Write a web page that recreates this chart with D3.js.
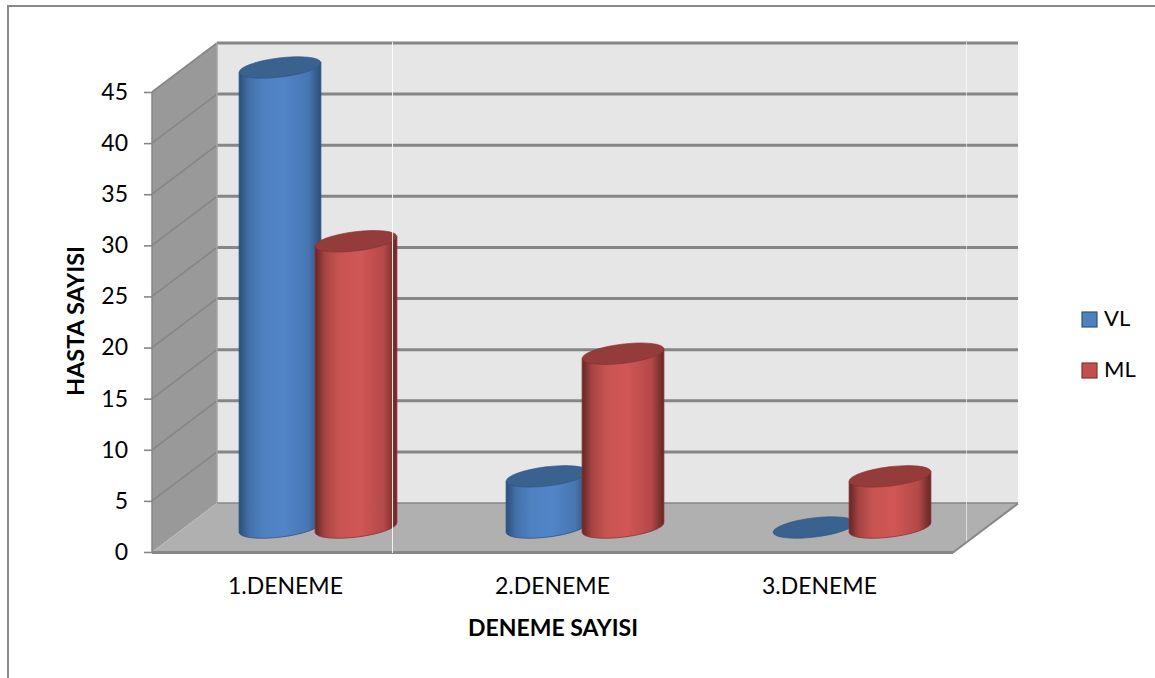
<!DOCTYPE html>
<html>
<head>
<meta charset="utf-8">
<script src="https://cdn.jsdelivr.net/npm/d3@7"></script>
<style>
html, body { margin: 0; padding: 0; background: #fff; overflow: hidden; }
svg { display: block; }
text { font-family: Lato, "Open Sans", sans-serif; fill: #000; }
</style>
</head>
<body>
<div id="chart"></div>
<script>
// Patient counts per trial, drawn as 3D cylinders
const categories = ["1.DENEME", "2.DENEME", "3.DENEME"];
const seriesNames = ["VL", "ML"];
const vlValues = [45, 5, 0];
const mlValues = [28, 17, 5];
const yTicks = [0, 5, 10, 15, 20, 25, 30, 35, 40, 45];
const xTitle = "DENEME SAYISI";
const yTitle = "HASTA SAYISI";

const width = 1155, height = 678;
const svg = d3.select("#chart").append("svg").attr("width", width).attr("height", height);
const defs = svg.append("defs");

// Front plane of the box and the depth offset towards the back wall
const front = { left: 152, right: 953, bottom: 552, top: 92 };
const depth = { x: 65, y: -49 };

const y = d3.scaleLinear().domain([0, 45]).range([front.bottom, front.top]);
const x = d3.scaleBand().domain(categories).range([front.left, front.right]);
const xSeries = d3.scaleBand().domain(seriesNames).range([-76, 76]);

const palette = {
  VL: { edge: "#2c5582", side: "#2b4f78", mid: "#5285c8", cap: "#3a628f", key: "#4f81bd" },
  ML: { edge: "#8e2f2d", side: "#642625", mid: "#d05755", cap: "#933c3a", key: "#c0504d" }
};
const wallGrey = "#999999", backGrey = "#e6e6e6", floorGrey = "#b0b0b0", lineGrey = "#868686";

// Horizontal shading that gives each cylinder its round look
seriesNames.forEach(name => {
  const c = palette[name];
  const g = defs.append("linearGradient").attr("id", "body-" + name)
    .attr("x1", "0").attr("x2", "1").attr("y1", "0").attr("y2", "0");
  [[0, c.side], [0.12, d3.interpolateRgb(c.side, c.mid)(0.62)], [0.3, d3.interpolateRgb(c.side, c.mid)(0.93)],
   [0.55, c.mid], [0.85, d3.interpolateRgb(c.side, c.mid)(0.72)], [1, c.side]]
    .forEach(([o, col]) => g.append("stop").attr("offset", o).attr("stop-color", col));
});

const pts = a => a.map(p => p.join(",")).join(" ");

// Back wall, floor and left side wall
svg.append("polygon").attr("fill", backGrey).attr("points", pts([
  [front.left + depth.x, y(45) + depth.y], [front.right + depth.x, y(45) + depth.y],
  [front.right + depth.x, y(0) + depth.y], [front.left + depth.x, y(0) + depth.y]]));
svg.append("polygon").attr("fill", wallGrey).attr("points", pts([
  [front.left, y(45)], [front.left + depth.x, y(45) + depth.y],
  [front.left + depth.x, y(0) + depth.y], [front.left, y(0)]]));
svg.append("polygon").attr("fill", floorGrey).attr("points", pts([
  [front.left, y(0)], [front.left + depth.x, y(0) + depth.y],
  [front.right + depth.x, y(0) + depth.y], [front.right, y(0)]]));

// Gridlines run along the side wall and across the back wall
const grid = svg.append("g").attr("fill", "none");
yTicks.forEach(t => {
  if (t > 0) {
    grid.append("path").attr("stroke", lineGrey).attr("stroke-width", 1.6)
      .attr("d", d3.line()([[front.left, y(t)], [front.left + depth.x, y(t) + depth.y]]));
  }
  grid.append("path").attr("stroke", lineGrey).attr("stroke-width", t === 0 ? 1.5 : 3)
    .attr("d", d3.line()([[front.left + depth.x, y(t) + depth.y], [front.right + depth.x, y(t) + depth.y]]));
});
// Box edges: wall corner, front of the floor and its right side
grid.append("path").attr("stroke", "#a5a5a5").attr("stroke-width", 1.5)
  .attr("d", d3.line()([[front.left + depth.x, y(45) + depth.y], [front.left + depth.x, y(0) + depth.y]]));
grid.append("path").attr("stroke", lineGrey).attr("stroke-width", 3)
  .attr("d", d3.line()([[front.left, y(0) + 0.5], [front.right, y(0) + 0.5]]));
grid.append("path").attr("stroke", lineGrey).attr("stroke-width", 2)
  .attr("d", d3.line()([[front.right, y(0) + 0.5], [front.right + depth.x, y(0) + depth.y + 0.5]]));
grid.append("path").attr("stroke", lineGrey).attr("stroke-width", 1.5)
  .attr("d", d3.line()([[front.left, y(0)], [front.left, y(45)]]));

// Cylinders sit halfway through the depth of the box
const rx = 41.2, ry = 9.6, tilt = 7;
const dxEnd = rx * Math.cos(tilt * Math.PI / 180), dyEnd = rx * Math.sin(tilt * Math.PI / 180);
const rows = [];
categories.forEach((c, i) => {
  rows.push({ cat: c, name: "VL", value: vlValues[i] });
  rows.push({ cat: c, name: "ML", value: mlValues[i] });
});
const cx = d => x(d.cat) + x.bandwidth() / 2 + depth.x / 2 + xSeries(d.name) + xSeries.bandwidth() / 2;
const cyAt = v => y(v) + depth.y / 2;

const bars = svg.append("g").selectAll("g").data(rows).join("g");
bars.filter(d => d.value > 0).append("path")
  .attr("fill", d => `url(#body-${d.name})`)
  .attr("stroke", d => palette[d.name].edge).attr("stroke-width", 0.8)
  .attr("d", d => {
    const c = cx(d), top = cyAt(d.value), base = cyAt(0);
    return `M${c - dxEnd},${top + dyEnd} L${c - dxEnd},${base + dyEnd} ` +
      `A${rx},${ry} ${-tilt} 0 0 ${c + dxEnd},${base - dyEnd} L${c + dxEnd},${top - dyEnd} Z`;
  });
bars.append("ellipse")
  .attr("rx", rx).attr("ry", ry)
  .attr("fill", d => palette[d.name].cap)
  .attr("stroke", d => palette[d.name].edge).attr("stroke-width", 0.6)
  .attr("transform", d => `translate(${cx(d)},${cyAt(d.value)}) rotate(${-tilt})`);

// Thin white hairlines crossing the plot
const hair = svg.append("g").attr("stroke", "#fff").attr("stroke-width", 1);
hair.append("line").attr("x1", 392.5).attr("x2", 392.5).attr("y1", 42).attr("y2", 553).attr("stroke-opacity", 0.85);
hair.append("line").attr("x1", 966.5).attr("x2", 966.5).attr("y1", 42).attr("y2", 541).attr("stroke-opacity", 0.6);

// Value axis with outward ticks at the front edge
const yAxis = svg.append("g").attr("transform", `translate(${front.left},0)`)
  .call(d3.axisLeft(y).tickValues(yTicks).tickSize(8).tickPadding(16));
yAxis.select(".domain").remove();
yAxis.selectAll("line").attr("stroke", lineGrey).attr("stroke-width", 1.6);
yAxis.selectAll("text").style("font-size", "23px");

// Category labels
const xAxis = svg.append("g").attr("transform", `translate(0,${front.bottom + 26})`)
  .call(d3.axisBottom(x).tickSize(0).tickPadding(0));
xAxis.select(".domain").remove();
xAxis.selectAll("text").style("font-size", "23px");

// Axis titles
svg.append("text").attr("x", 553).attr("y", 636).attr("text-anchor", "middle")
  .attr("font-weight", 700).attr("font-size", 23).text(xTitle);
svg.append("text").attr("transform", "translate(84,321) rotate(-90)").attr("text-anchor", "middle")
  .attr("font-weight", 700).attr("font-size", 23.5).text(yTitle);

// Legend
const legend = svg.append("g").selectAll("g").data(seriesNames).join("g")
  .attr("transform", (d, i) => `translate(1082,${312 + i * 51})`);
legend.append("rect").attr("width", 15).attr("height", 15)
  .attr("fill", d => palette[d].key)
  .attr("stroke", d => palette[d].edge).attr("stroke-width", 1.2);
legend.append("text").attr("x", 22).attr("y", 14).attr("font-size", 22).text(d => d);

// Outer frame of the chart area
svg.append("path").attr("fill", "none").attr("stroke", "#8a8a8a").attr("stroke-width", 2)
  .attr("d", d3.line()([[8, height], [8, 6], [width, 6]]));
</script>
</body>
</html>
